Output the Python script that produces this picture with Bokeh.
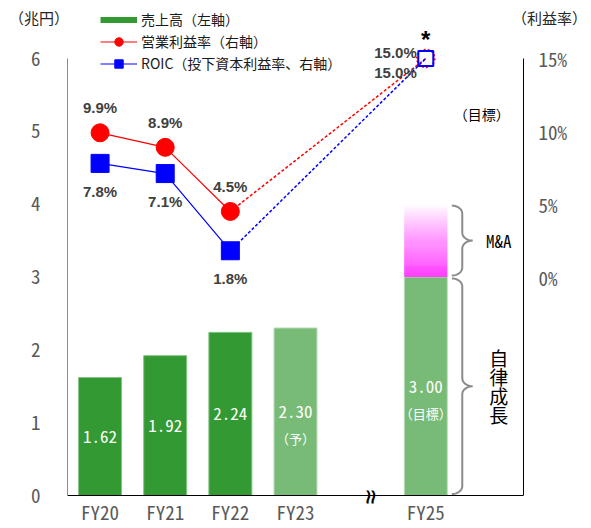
import numpy as np
from bokeh.plotting import figure
from bokeh.models import (Range1d, LinearAxis, FixedTicker, Legend, LegendItem,
                          ColumnDataSource, PrintfTickFormatter, Span)
from bokeh.core.properties import value
from bokeh.embed import file_html
from bokeh.resources import INLINE

# ---- data -------------------------------------------------------------
years = ["FY20", "FY21", "FY22", "FY23", "FY25"]
sales = [1.62, 1.92, 2.24, 2.30, 3.00]            # 売上高（兆円）
sales_notes = ["", "", "", "（予）", "（目標）"]
planned = [False, False, False, True, True]         # 予想・目標
ma_target_total = 4.0                               # FY25 目標（M&A 含む）

rate_years = ["FY20", "FY21", "FY22", "FY25"]
op_margin = [9.9, 8.9, 4.5, 15.0]                   # 営業利益率（%）
roic = [7.8, 7.1, 1.8, 15.0]                        # ROIC（%）

left_ticks = [0, 1, 2, 3, 4, 5, 6]
right_ticks = [0, 5, 10, 15]
unit_captions = ["（兆円）", "（利益率）"]

# ---- style ------------------------------------------------------------
MONO = "Noto Sans Mono CJK JP"
JP = "Noto Sans CJK JP"
GREEN_ACT, GREEN_PLAN = "#339933", "#77bb77"
RED, BLUE = "#ff0000", "#0000ff"
LABEL_GRAY = "#404040"
TICK_GRAY = "#595959"


def slot(fy):
    return int(fy[2:]) - 20


# frame geometry (pixels): the sales axis runs 0..6 over 437 px
W, H = 591, 528
FRAME_L, FRAME_R, FRAME_T, FRAME_B = 67, 523, 0, 503
AXIS_ZERO_PX, AXIS_TOP_PX = 495, 58
PX_PER_UNIT = (AXIS_ZERO_PX - AXIS_TOP_PX) / 6
Y_START = -(FRAME_B - AXIS_ZERO_PX) / PX_PER_UNIT
Y_END = 6 + (AXIS_TOP_PX - FRAME_T) / PX_PER_UNIT
X_START, X_END = -0.5, 6.5


def pct(y):
    # right axis: 0 % sits at 3 兆円, 5 % per unit
    return (y - 3) * 5


p = figure(width=W, height=H, output_backend="svg", toolbar_location=None,
           x_range=Range1d(X_START, X_END), y_range=Range1d(Y_START, Y_END),
           min_border_left=FRAME_L, min_border_right=W - FRAME_R,
           min_border_top=FRAME_T, min_border_bottom=H - FRAME_B)
p.extra_y_ranges = {"pct": Range1d(pct(Y_START), pct(Y_END))}
p.outline_line_color = None
p.xgrid.visible = False
p.ygrid.visible = False
p.background_fill_color = "white"
p.border_fill_color = "white"


def caption(axis, text, standoff):
    # unit caption written horizontally near the top end of a value axis;
    # the leading empty line drops it just below the top edge
    axis.axis_label = "\n" + text
    axis.axis_label_orientation = "horizontal"
    if "axis_label_align" in axis.properties():
        axis.axis_label_align = "end"
    axis.axis_label_standoff = standoff
    axis.axis_label_text_font = JP
    axis.axis_label_text_font_size = "15px"
    axis.axis_label_text_font_style = "normal"
    axis.axis_label_text_line_height = 1.66
    axis.axis_label_text_color = "#262626"


# ---- axes -------------------------------------------------------------
ya = p.yaxis[0]
ya.bounds = (0, 6)
ya.ticker = FixedTicker(ticks=left_ticks)
ya.axis_line_color = "#8c8c8c"
ya.major_tick_line_color = None
ya.minor_tick_line_color = None
ya.major_label_standoff = 21
ya.major_label_text_font = MONO
ya.major_label_text_font_size = "19px"
ya.major_label_text_color = TICK_GRAY
caption(ya, unit_captions[0], -41)

ra = LinearAxis(y_range_name="pct", bounds=(pct(0), 15),
                ticker=FixedTicker(ticks=right_ticks),
                formatter=PrintfTickFormatter(format="%d%%"))
ra.axis_line_color = "black"
ra.major_tick_line_color = None
ra.minor_tick_line_color = None
ra.major_label_standoff = 9
ra.major_label_text_font = MONO
ra.major_label_text_font_size = "19px"
ra.major_label_text_color = TICK_GRAY
caption(ra, unit_captions[1], -58)
p.add_layout(ra, "right")

xa = p.xaxis[0]
xa.ticker = FixedTicker(ticks=[slot(y) for y in years])
xa.major_label_overrides = {slot(y): y for y in years}
xa.axis_line_color = None
xa.major_tick_line_color = None
xa.minor_tick_line_color = None
xa.major_label_standoff = -12
xa.major_label_text_font = MONO
xa.major_label_text_font_size = "19px"
xa.major_label_text_color = TICK_GRAY
# baseline of the sales axis
p.add_layout(Span(location=0, dimension="width", line_color="black",
                  line_width=1))

# ---- sales bars -------------------------------------------------------
BAR_W = 0.66
bars = ColumnDataSource(dict(
    x=[slot(y) for y in years],
    top=sales,
    mid=[v / 2 for v in sales],
    txt=[f"{v:.2f}" for v in sales],
    note=sales_notes,
    fill=[GREEN_PLAN if f else GREEN_ACT for f in planned],
    edge=[("#b9ddb9" if f else "#86c386") for f in planned],
))
p.vbar(x="x", top="top", width=BAR_W, source=bars, fill_color="fill",
       line_color="edge", line_width=1)

# M&A portion of the FY25 target, fading from magenta to white
x25 = slot(years[-1])
n_steps = 72
edges = np.linspace(sales[-1], ma_target_total, n_steps + 1)
frac = (np.arange(n_steps) + 0.5) / n_steps
g = (64 + (255 - 64) * frac ** 1.15).astype(int)
overlap = 0.5 / PX_PER_UNIT
p.quad(left=x25 - BAR_W / 2, right=x25 + BAR_W / 2,
       bottom=edges[:-1], top=np.minimum(edges[1:] + overlap, ma_target_total),
       fill_color=[f"#ff{v:02x}ff" for v in g], line_color=None)

p.text(x="x", y="mid", text="txt", source=bars, text_color="white",
       text_font=value(MONO), text_font_size="17px",
       text_align="center", text_baseline="middle")
p.text(x="x", y="mid", text="note", source=bars, text_color="white",
       text_font=value(JP), text_font_size="13px", y_offset=27,
       text_align="center", text_baseline="middle")

# ---- rate lines -------------------------------------------------------
rx = [slot(y) for y in rate_years]


def rate_series(vals, color, marker, above):
    solid = p.line(rx[:3], vals[:3], y_range_name="pct", line_color=color,
                   line_width=1.2)
    p.line(rx[2:], vals[2:], y_range_name="pct", line_color=color,
           line_width=1.5, line_dash="3 2")
    pts = p.scatter(rx[:3], vals[:3], y_range_name="pct", marker=marker,
                    size=18, fill_color=color, line_color=color)
    off = -25 if above else 28
    p.text(rx[:3], vals[:3], text=[f"{v:.1f}%" for v in vals[:3]],
           y_range_name="pct", y_offset=off, text_color=LABEL_GRAY,
           text_font=value("Liberation Sans"), text_font_style="bold",
           text_font_size="15px", text_align="center", text_baseline="middle")
    p.text(rx[3:], vals[3:], text=[f"{v:.1f}%" for v in vals[3:]],
           y_range_name="pct", x_offset=-9, y_offset=(-6 if above else 14),
           text_color=LABEL_GRAY, text_font=value("Liberation Sans"),
           text_font_style="bold", text_font_size="15px",
           text_align="right", text_baseline="middle")
    return solid, pts


red_line, red_pts = rate_series(op_margin, RED, "circle", True)
blue_line, blue_pts = rate_series(roic, BLUE, "square", False)

# FY25 target markers (hollow)
p.scatter(rx[3:], op_margin[3:], y_range_name="pct", marker="circle", size=18,
          fill_color=None, line_color=RED, line_width=1.5, line_dash="2 2")
p.scatter(rx[3:], roic[3:], y_range_name="pct", marker="square", size=15,
          fill_color=None, line_color=BLUE, line_width=2)
p.text(rx[3:], op_margin[3:], text=["*"], y_range_name="pct", y_offset=-19,
       text_color="black", text_font=value("Liberation Sans"),
       text_font_style="bold", text_font_size="24px", text_align="center",
       text_baseline="middle")
p.text([x25 + 0.86], [11.2], text=["（目標）"], y_range_name="pct",
       text_color="black", text_font=value(JP), text_font_size="14px",
       text_align="center", text_baseline="middle")

# ---- braces: organic growth and M&A -----------------------------------
def brace(x0, y0, y1, w=0.32, ry=0.11, n=16):
    t = np.linspace(0, np.pi / 2, n)
    ym = (y0 + y1) / 2
    xs = np.concatenate([
        x0 + (w / 2) * np.sin(t),                 # top end
        x0 + w - (w / 2) * np.cos(t),             # into the tip
        x0 + w - (w / 2) * np.sin(t),             # out of the tip
        x0 + (w / 2) * np.cos(t),                 # bottom end
    ])
    ys = np.concatenate([
        y1 - ry + ry * np.cos(t),
        ym + ry - ry * np.sin(t),
        ym - ry + ry * np.cos(t),
        y0 + ry - ry * np.sin(t),
    ])
    return xs, ys


bx0 = x25 + BAR_W / 2 + 0.07
for lo, hi in [(0, sales[-1]), (sales[-1], ma_target_total)]:
    xs, ys = brace(bx0, lo + 0.02, hi - 0.02)
    p.line(xs, ys, line_color="#8c8c8c", line_width=2)

p.text([x25 + 1.12], [(sales[-1] + ma_target_total) / 2], text=["M&A"],
       text_color="black", text_font=value(MONO), text_font_size="17px",
       text_align="center", text_baseline="middle")
p.text([x25 + 1.12], [sales[-1] / 2], text=["自\n律\n成\n長"],
       text_color="black", text_font=value(JP), text_font_size="19px",
       text_line_height=0.7, text_align="center", text_baseline="middle")

# axis break between FY23 and FY25
p.text([(slot(years[-2]) + x25) / 2 + 0.14], [0], text=["≈"],
       angle=np.pi / 2, y_offset=3, text_font=value("DejaVu Sans"),
       text_font_size="26px", text_color="black",
       text_align="center", text_baseline="middle")

# ---- legend -------------------------------------------------------------
sales_key = p.line([np.nan, np.nan], [np.nan, np.nan],
                   line_color=GREEN_ACT, line_width=6)
legend = Legend(items=[
    LegendItem(label="売上高（左軸）", renderers=[sales_key]),
    LegendItem(label="営業利益率（右軸）", renderers=[red_line, red_pts]),
    LegendItem(label="ROIC（投下資本利益率、右軸）", renderers=[blue_line, blue_pts]),
], location=(100 - FRAME_L, FRAME_B - 73.5), orientation="vertical")
legend.label_text_font = JP
legend.label_text_font_size = "14px"
legend.label_text_color = "#1a1a1a"
legend.glyph_width = 37
legend.glyph_height = 21
legend.label_height = 21
legend.label_standoff = 4
legend.spacing = 1
legend.padding = 0
legend.margin = 0
legend.border_line_color = None
legend.background_fill_alpha = 0
p.add_layout(legend, "center")

open("out.html", "w").write(file_html(p, INLINE))
